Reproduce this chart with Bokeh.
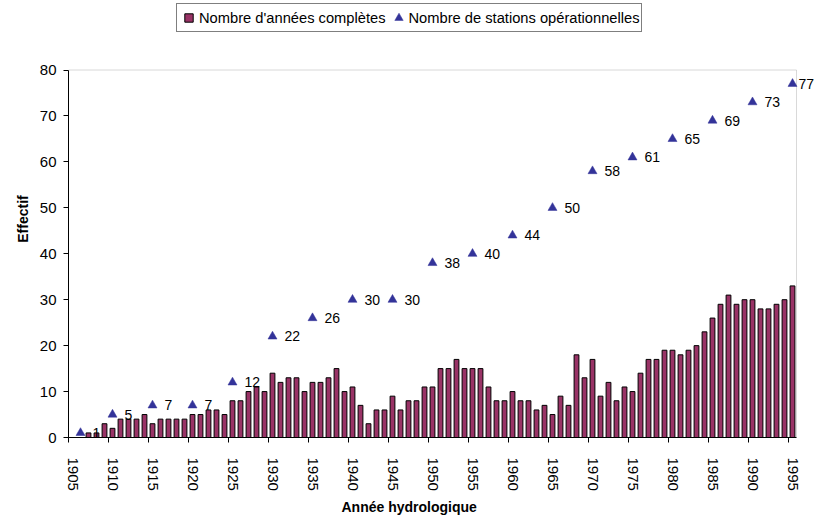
from bokeh.plotting import figure
from bokeh.models import (ColumnDataSource, Range1d, FixedTicker, Legend, LegendItem,
                          LabelSet, Title, BoxAnnotation)
from bokeh.core.properties import value
from bokeh.embed import file_html
from bokeh.resources import INLINE

# ---------------- data ----------------
years = list(range(1905, 1996))
complete_years = [
    0, 0, 1, 1, 3, 2, 4, 4, 4, 5,          # 1905-1914
    3, 4, 4, 4, 4, 5, 5, 6, 6, 5,          # 1915-1924
    8, 8, 10, 11, 10, 14, 12, 13, 13, 10,  # 1925-1934
    12, 12, 13, 15, 10, 11, 7, 3, 6, 6,    # 1935-1944
    9, 6, 8, 8, 11, 11, 15, 15, 17, 15,    # 1945-1954
    15, 15, 11, 8, 8, 10, 8, 8, 6, 7,      # 1955-1964
    5, 9, 7, 18, 13, 17, 9, 12, 8, 11,     # 1965-1974
    10, 14, 17, 17, 19, 19, 18, 19, 20, 23,  # 1975-1984
    26, 29, 31, 29, 30, 30, 28, 28, 29, 30,  # 1985-1994
    33,                                     # 1995
]
station_years = [1906, 1910, 1915, 1920, 1925, 1930, 1935, 1940, 1945, 1950,
                 1955, 1960, 1965, 1970, 1975, 1980, 1985, 1990, 1995]
stations = [1, 5, 7, 7, 12, 22, 26, 30, 30, 38,
            40, 44, 50, 58, 61, 65, 69, 73, 77]
tick_years = list(range(1905, 1996, 5))
y_ticks = list(range(0, 81, 10))

FONT = "Liberation Sans"
BAR_COLOR = "#993366"
TRI_COLOR = "#333399"

X0, X1 = 1904.5, 1995.5      # plot-area extent (categories)
Y0, Y1 = 0, 80

bar_src = ColumnDataSource(dict(x=years, top=complete_years))
label_dx = [12] * (len(stations) - 1) + [6]
st_src = ColumnDataSource(dict(x=station_years, y=stations,
                               txt=[str(v) for v in stations], dx=label_dx))

# frame extends to the right/top edges of the canvas so that labels and the
# legend outside the plot area are not clipped; the plot area is drawn as a box.
p = figure(width=819, height=517, output_backend="svg", toolbar_location=None,
           x_range=Range1d(X0, X0 + 751 / 8.0), y_range=Range1d(Y0, 440 / 4.625),
           min_border_left=68, min_border_right=0, min_border_top=0,
           min_border_bottom=77, background_fill_color="white",
           border_fill_color="white")
p.title.visible = False
p.outline_line_color = None
p.xgrid.visible = False
p.ygrid.visible = False

area = BoxAnnotation(left=X0, right=X1, bottom=Y0, top=Y1, fill_alpha=0,
                     line_color="#808080", line_width=1, level="underlay")
p.add_layout(area)

bars = p.vbar(x="x", top="top", width=0.6, source=bar_src,
              fill_color=BAR_COLOR, line_color="black", line_width=1)
tris = p.scatter(x="x", y="y", source=st_src, marker="triangle", size=9,
                 fill_color=TRI_COLOR, line_color=TRI_COLOR, line_width=0.5)

# legend proxy for the bar swatch (square marker, not drawn in the plot)
proxy = p.scatter(x=[float("nan")], y=[float("nan")], marker="square",
                  fill_color=BAR_COLOR, line_color="black", line_width=1)

labels = LabelSet(x="x", y="y", text="txt", source=st_src, x_offset="dx",
                  text_align="left", text_baseline="middle",
                  text_font=value(FONT), text_font_size="14px", text_color="black")
p.add_layout(labels)

# x axis
xa = p.xaxis[0]
xa.bounds = (X0, X1)
xa.ticker = FixedTicker(ticks=tick_years, minor_ticks=[t - 0.5 for t in tick_years])
xa.major_tick_out = 0
xa.major_tick_in = 0
xa.minor_tick_out = 5
xa.minor_tick_in = 0
xa.minor_tick_line_color = "black"
xa.major_label_orientation = "vertical"
xa.major_label_standoff = 15
xa.major_label_text_font = FONT
xa.major_label_text_font_size = "15px"
xa.major_label_text_color = "black"
xa.axis_line_color = "black"

# y axis
ya = p.yaxis[0]
ya.bounds = (Y0, Y1)
ya.ticker = FixedTicker(ticks=y_ticks, minor_ticks=[])
ya.major_tick_out = 5
ya.major_tick_in = 0
ya.major_label_standoff = 7
ya.major_label_text_font = FONT
ya.major_label_text_font_size = "15px"
ya.major_label_text_color = "black"
ya.axis_line_color = "black"
ya.major_tick_line_color = "black"
ya.axis_label = "Effectif"
ya.axis_label_text_font = FONT
ya.axis_label_text_font_size = "14px"
ya.axis_label_text_font_style = "bold"
ya.axis_label_text_color = "black"
ya.axis_label_standoff = 6

# x axis title
xt = Title(text="Année hydrologique", align="left", offset=273, standoff=6,
           text_font=FONT, text_font_size="14px", text_font_style="bold",
           text_color="black")
p.add_layout(xt, "below")

legend = Legend(items=[LegendItem(label="Nombre d'années complètes", renderers=[proxy]),
                       LegendItem(label="Nombre de stations opérationnelles", renderers=[tris])],
                orientation="horizontal", location=(108, 405),
                glyph_width=21, glyph_height=21, label_standoff=0, spacing=2,
                padding=1, margin=0, label_height=25,
                label_text_font=FONT, label_text_font_size="14.7px",
                label_text_color="black", border_line_color="black",
                border_line_width=1, background_fill_color="white",
                background_fill_alpha=1)
p.add_layout(legend)

open("out.html", "w").write(file_html(p, INLINE))
